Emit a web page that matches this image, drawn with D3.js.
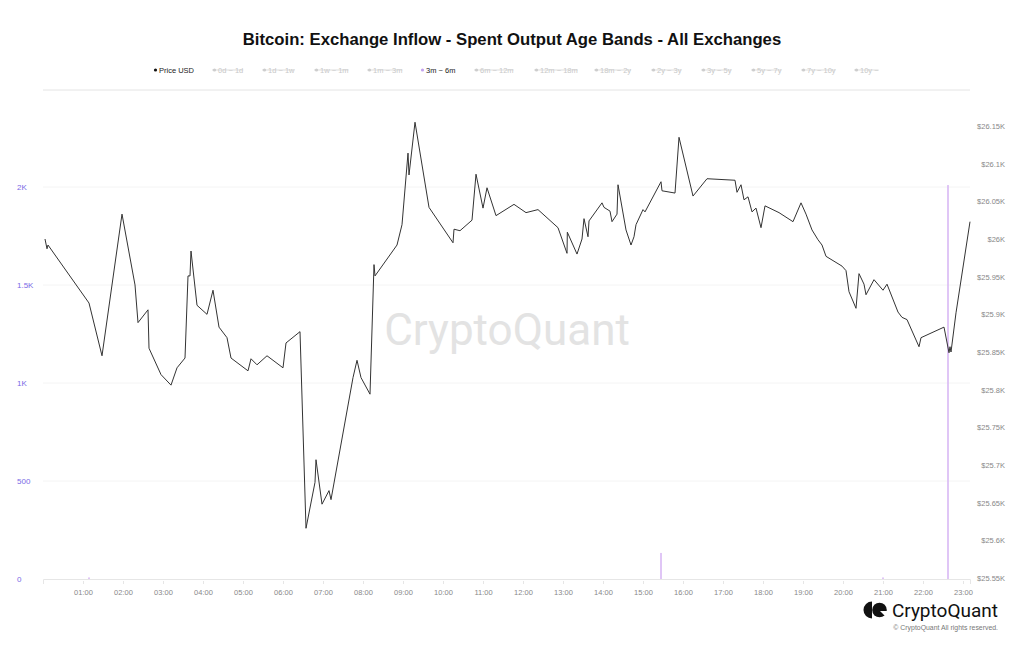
<!DOCTYPE html>
<html>
<head>
<meta charset="UTF-8">
<title>Bitcoin: Exchange Inflow - Spent Output Age Bands</title>
<script src="https://cdn.jsdelivr.net/npm/d3@7"></script>
<style>
  body { margin: 0; background: #fff; }
  svg { display: block; font-family: "Liberation Sans", Arial, sans-serif; }
</style>
</head>
<body>
<script>
  // price line: minutes since 00:00 and BTC price in USD
  var priceMinutes = [3, 6, 7.5, 69, 88.5, 118.5, 138, 142.5, 157.5, 159, 177, 192, 201, 213, 217.5, 220.5, 222, 231, 246, 255,
    264, 276, 282, 307.5, 312, 321, 336, 360, 364.5, 385.5, 394.5, 408, 409.5, 418.5, 429, 432, 465, 471, 477, 490.5,
    496.5, 498, 531, 538.5, 547.5, 549, 558, 579, 615, 616.5, 625.5, 643.5, 649.5, 660, 666, 679.5, 706.5, 724.5, 742.5, 772.5,
    786, 786.5, 801, 808.5, 811.5, 817.5, 819, 838.5, 841.5, 850.5, 853.5, 861, 862.5, 874.5, 882, 886.5, 889.5, 900, 903, 927,
    928.5, 948, 954, 975, 996, 1038, 1041, 1047, 1051.5, 1057.5, 1063.5, 1069.5, 1077, 1083, 1104, 1125, 1137, 1144.5, 1153.5, 1162.5,
    1168.5, 1174.5, 1198.5, 1204.5, 1209, 1219.5, 1224, 1231.5, 1234.5, 1246.5, 1260, 1266, 1282.5, 1288.5, 1296, 1314, 1317, 1351.5,
    1359, 1360.5, 1362, 1369.5, 1390.5];
  var priceValues = [26000, 25987, 25992, 25915, 25845, 26033, 25939, 25889, 25906, 25855, 25820, 25806, 25829, 25842, 25951, 25951, 25984, 25912, 25900, 25932,
    25883, 25869, 25842, 25825, 25841, 25833, 25845, 25829, 25862, 25877, 25616, 25677, 25707, 25648, 25666, 25654, 25816, 25839, 25816, 25794,
    25966, 25951, 25992, 26019, 26114, 26085, 26155, 26042, 25995, 26013, 26011, 26025, 26086, 26041, 26068, 26031, 26046, 26035, 26039, 26015,
    25981, 26009, 25980, 26000, 26027, 26003, 26024, 26048, 26042, 26037, 26023, 26033, 26072, 26012, 25992, 26003, 26019, 26039, 26036, 26076,
    26064, 26061, 26135, 26057, 26080, 26078, 26062, 26072, 26052, 26056, 26036, 26041, 26015, 26044, 26035, 26023, 26048, 26033, 26012, 25999,
    25992, 25977, 25964, 25958, 25930, 25908, 25954, 25940, 25926, 25946, 25932, 25940, 25903, 25896, 25893, 25857, 25869, 25883,
    25849, 25857, 25850, 25902, 26023];

  // 3m ~ 6m exchange inflow (BTC)
  var inflowMinutes = [69, 927, 1260, 1357.5];
  var inflowValues = [8, 133, 8, 2010];

  var leftTicks = [0, 500, 1000, 1500, 2000];
  var rightTicks = [25550, 25600, 25650, 25700, 25750, 25800, 25850, 25900, 25950, 26000, 26050, 26100, 26150];
  var hourTicks = d3.range(1, 24);

  var legendLabels = ["Price USD", "0d ~ 1d", "1d ~ 1w", "1w ~ 1m", "1m ~ 3m", "3m ~ 6m", "6m ~ 12m", "12m ~ 18m",
    "18m ~ 2y", "2y ~ 3y", "3y ~ 5y", "5y ~ 7y", "7y ~ 10y", "10y ~"];
  var legendOn = [true, false, false, false, false, true, false, false, false, false, false, false, false, false];

  const w = 1024, h = 645;
  const plotLeft = 43, plotRight = 970, plotTop = 90, plotBottom = 579;

  const svg = d3.select("body").append("svg")
    .attr("width", w).attr("height", h);

  const xScale = d3.scaleLinear().domain([0, 1390.5]).range([plotLeft, plotRight]);
  const yLeft = d3.scaleLinear().domain([0, 2000]).range([plotBottom, 187]);
  const yRight = d3.scaleLinear().domain([25550, 26150]).range([578, 126]);

  // title
  svg.append("text")
    .attr("x", 512).attr("y", 45)
    .attr("text-anchor", "middle")
    .style("font-size", "16.7px").style("font-weight", "bold").style("fill", "#111")
    .text("Bitcoin: Exchange Inflow - Spent Output Age Bands - All Exchanges");

  // legend
  const legendX = [154, 213, 263, 315, 368, 421, 475, 535, 595, 652, 702, 752, 802, 855];
  legendLabels.forEach(function (lab, i) {
    const g = svg.append("g").attr("transform", "translate(" + legendX[i] + ",70)");
    const col = i === 0 ? "#111" : (legendOn[i] ? "#c4a3ee" : "#ccc");
    g.append("circle").attr("cx", 1.5).attr("cy", 0).attr("r", 1.6).attr("fill", col);
    const t = g.append("text").attr("x", 5).attr("y", 2.6)
      .style("font-size", "7.5px")
      .style("fill", legendOn[i] ? "#222" : "#c8c8c8")
      .text(lab);
    if (!legendOn[i]) {
      const tw = t.node().getComputedTextLength();
      g.append("line").attr("x1", -1).attr("x2", 5 + tw).attr("y1", 0).attr("y2", 0)
        .attr("stroke", "#cfcfcf").attr("stroke-width", 0.7);
    }
  });

  // top border and grid
  svg.append("line").attr("x1", plotLeft).attr("x2", plotRight).attr("y1", plotTop).attr("y2", plotTop)
    .attr("stroke", "#e4e4e4");
  svg.selectAll(".grid").data(leftTicks.slice(1)).enter().append("line")
    .attr("class", "grid")
    .attr("x1", plotLeft).attr("x2", plotRight)
    .attr("y1", d => yLeft(d)).attr("y2", d => yLeft(d))
    .attr("stroke", "#f4f4f4");

  // watermark
  svg.append("text")
    .attr("x", 507).attr("y", 345)
    .attr("text-anchor", "middle")
    .style("font-family", "Roboto, sans-serif")
    .style("font-size", "44px").style("fill", "#e3e3e3")
    .text("CryptoQuant");

  // inflow bars
  svg.selectAll(".bar").data(inflowValues).enter().append("rect")
    .attr("class", "bar")
    .attr("x", (d, i) => xScale(inflowMinutes[i]) - 0.75)
    .attr("width", 1.5)
    .attr("y", d => yLeft(d))
    .attr("height", d => plotBottom - yLeft(d))
    .attr("fill", "#d6b4f4");

  // x axis
  const xAxis = d3.axisBottom(xScale)
    .tickValues(hourTicks.map(hh => hh * 60))
    .tickSize(5).tickPadding(6)
    .tickFormat(m => d3.format("02d")(m / 60) + ":00");
  const gx = svg.append("g").attr("transform", "translate(0," + plotBottom + ")").call(xAxis);
  gx.select(".domain").attr("stroke", "#e6e6e6");
  gx.selectAll(".tick line").attr("stroke", "#e6e6e6").attr("y1", 2);
  gx.selectAll(".tick text").style("font-size", "7.5px").style("fill", "#888")
    .style("font-family", "Liberation Sans, Arial, sans-serif");

  // left axis
  const yAxisL = d3.axisLeft(yLeft).tickValues(leftTicks).tickSize(0)
    .tickFormat(d => d < 1000 ? String(d) : d3.format("~")(d / 1000) + "K");
  const gl = svg.append("g").attr("transform", "translate(17,0)").call(yAxisL);
  gl.select(".domain").remove();
  gl.selectAll(".tick text").attr("text-anchor", "start").attr("x", 0).attr("dy", "0.32em")
    .style("font-size", "8px").style("fill", "#7a6ae6")
    .style("font-family", "Liberation Sans, Arial, sans-serif");

  // right axis
  const yAxisR = d3.axisRight(yRight).tickValues(rightTicks).tickSize(0)
    .tickFormat(d => "$" + d3.format("~")(d / 1000) + "K");
  const gr = svg.append("g").attr("transform", "translate(1005,0)").call(yAxisR);
  gr.select(".domain").remove();
  gr.selectAll(".tick text").attr("text-anchor", "end").attr("x", 0)
    .style("font-size", "7.5px").style("fill", "#888")
    .style("font-family", "Liberation Sans, Arial, sans-serif");

  // price line
  const line = d3.line()
    .x((d, i) => xScale(priceMinutes[i]))
    .y(d => yRight(d));
  svg.append("path").datum(priceValues)
    .attr("d", line)
    .attr("fill", "none")
    .attr("stroke", "#333")
    .attr("stroke-width", 1);

  // logo bottom right
  const logo = svg.append("g").attr("transform", "translate(865,610)");
  logo.append("path")
    .attr("d", "M7,-8.5 A8.5,8.5 0 0 0 7,8.5 Z")
    .attr("fill", "#111");
  logo.append("circle").attr("cx", 14.5).attr("cy", 0).attr("r", 7.3).attr("fill", "#111");
  logo.append("path").attr("d", "M15,1 L22.5,1 L22.5,8.5 Z").attr("fill", "#fff");
  svg.append("text")
    .attr("x", 998).attr("y", 617)
    .attr("text-anchor", "end")
    .style("font-family", "Roboto, sans-serif")
    .style("font-size", "19px").style("fill", "#111")
    .text("CryptoQuant");
  svg.append("text")
    .attr("x", 998).attr("y", 630)
    .attr("text-anchor", "end")
    .style("font-size", "6.9px").style("fill", "#777")
    .text("\u00a9 CryptoQuant All rights reserved.");
</script>
</body>
</html>
